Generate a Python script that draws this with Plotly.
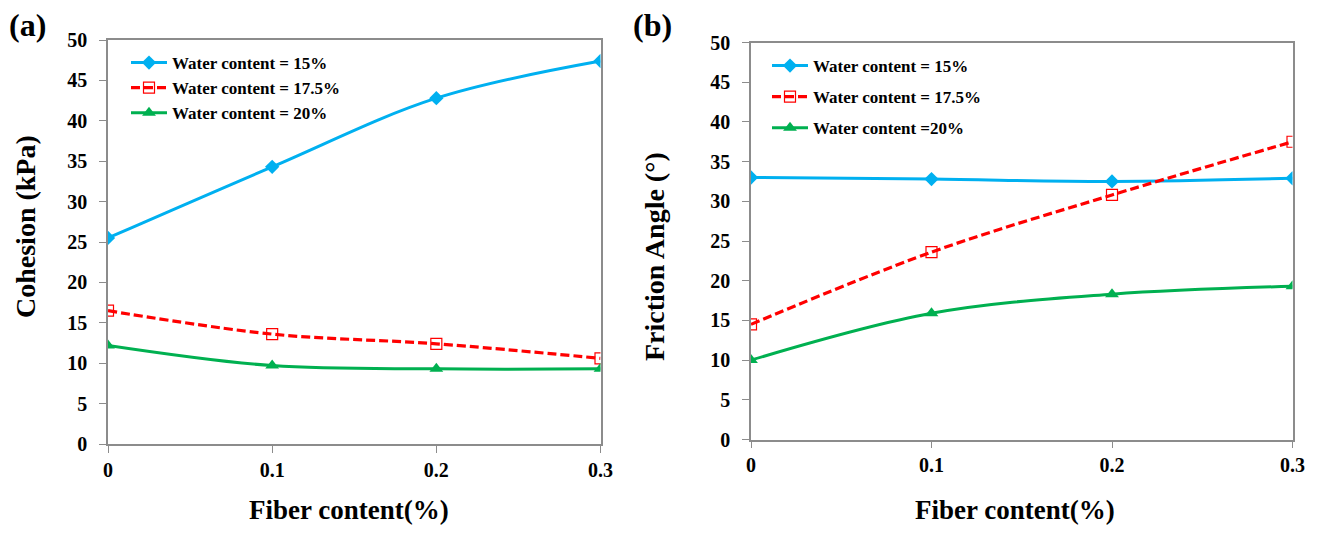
import plotly.graph_objects as go

fiber = [0, 0.1, 0.2, 0.3]
names_a = ["Water content = 15%", "Water content = 17.5%", "Water content = 20%"]
names_b = ["Water content = 15%", "Water content = 17.5%", "Water content =20%"]
cohesion_15 = [25.5, 34.3, 42.8, 47.4]
cohesion_175 = [16.5, 13.6, 12.4, 10.6]
cohesion_20 = [12.2, 9.7, 9.3, 9.3]
friction_15 = [33.0, 32.8, 32.5, 32.9]
friction_175 = [14.5, 23.6, 30.8, 37.5]
friction_20 = [10.0, 15.9, 18.3, 19.3]

FONT = "Liberation Serif"
BLUE = "#00B0F0"
RED = "#FF0000"
GREEN = "#00B050"

styles = [
    dict(line=dict(color=BLUE, width=3, shape="spline"),
         marker=dict(symbol="diamond", size=11, color=BLUE)),
    dict(line=dict(color=RED, width=3.2, dash="9px,4px", shape="spline"),
         marker=dict(symbol="square-open", size=11, color=RED, line=dict(width=1.2))),
    dict(line=dict(color=GREEN, width=3, shape="spline"),
         marker=dict(symbol="triangle-up", size=12, color=GREEN)),
]

fig = go.Figure()
for i, (ys, nm) in enumerate(zip([cohesion_15, cohesion_175, cohesion_20], names_a)):
    fig.add_trace(go.Scatter(x=fiber, y=ys, name=nm, mode="lines+markers",
                             xaxis="x", yaxis="y", legend="legend",
                             legendgroup="a%d" % i, **styles[i]))
for i, (ys, nm) in enumerate(zip([friction_15, friction_175, friction_20], names_b)):
    fig.add_trace(go.Scatter(x=fiber, y=ys, name=nm, mode="lines+markers",
                             xaxis="x2", yaxis="y2", legend="legend2",
                             legendgroup="b%d" % i, **styles[i]))

# page body has an 8px margin; figure fills the rest of the 1320x534 window
OFF = 8
W, H = 1320 - 2 * OFF, 534 - 2 * OFF
def px_x(p):
    return (p - OFF) / W
def px_y(p):
    return 1 - (p - OFF) / H

tickfont = dict(family=FONT, size=20, color="black", weight="bold")
xcommon = dict(range=[0, 0.3], tickvals=fiber, ticktext=["0", "0.1", "0.2", "0.3"],
               showgrid=False, zeroline=False, showline=True, linecolor="#8c8c8c",
               linewidth=1.5, mirror=True, ticks="outside", ticklen=7,
               tickcolor="#8c8c8c", tickfont=tickfont, automargin=False,
               ticklabelstandoff=0)
ycommon = dict(range=[0, 50], dtick=5, showgrid=False, zeroline=False, showline=True,
               linecolor="#8c8c8c", linewidth=1.5, mirror=True, ticks="outside",
               ticklen=7, tickcolor="#8c8c8c", tickfont=tickfont, automargin=False,
               ticklabelstandoff=8)

legfont = dict(family=FONT, size=17, color="black", weight="bold")
fig.update_layout(
    template=None,
    width=W, height=H, margin=dict(l=0, r=0, t=0, b=0, autoexpand=False),
    paper_bgcolor="white", plot_bgcolor="white",
    xaxis=dict(domain=[px_x(108), px_x(600.5)], anchor="y", **xcommon),
    yaxis=dict(domain=[px_y(444), px_y(40)], anchor="x", **ycommon),
    xaxis2=dict(domain=[px_x(751), px_x(1292.5)], anchor="y2", **xcommon),
    yaxis2=dict(domain=[px_y(439.5), px_y(42.5)], anchor="x2", **ycommon),
    legend=dict(x=px_x(126), y=px_y(45), xanchor="left", yanchor="top", font=legfont,
                bgcolor="rgba(0,0,0,0)", traceorder="grouped", tracegroupgap=0,
                itemwidth=36),
    legend2=dict(x=px_x(767), y=px_y(48), xanchor="left", yanchor="top", font=legfont,
                 bgcolor="rgba(0,0,0,0)", traceorder="grouped", tracegroupgap=6,
                 itemwidth=36),
    showlegend=True,
)

def label(text, x, y, font, angle=0):
    fig.add_annotation(text=text, x=px_x(x), y=px_y(y), xref="paper", yref="paper",
                       xanchor="center", yanchor="middle", textangle=angle,
                       showarrow=False, font=font)

ann_font = dict(family=FONT, size=27, color="black", weight="bold")
yt_font = dict(family=FONT, size=28, color="black", weight="bold")
panel_font = dict(family=FONT, size=32, color="black", weight="bold")
label("Cohesion (kPa)", 26, 227, yt_font, -90)
label("Friction Angle (°)", 654, 257, yt_font, -90)
label("Fiber content(%)", 349, 510, ann_font)
label("Fiber content(%)", 1015, 510, ann_font)
label("(a)", 27, 25, panel_font)
label("(b)", 652, 25, panel_font)

fig.write_html("out.html")
